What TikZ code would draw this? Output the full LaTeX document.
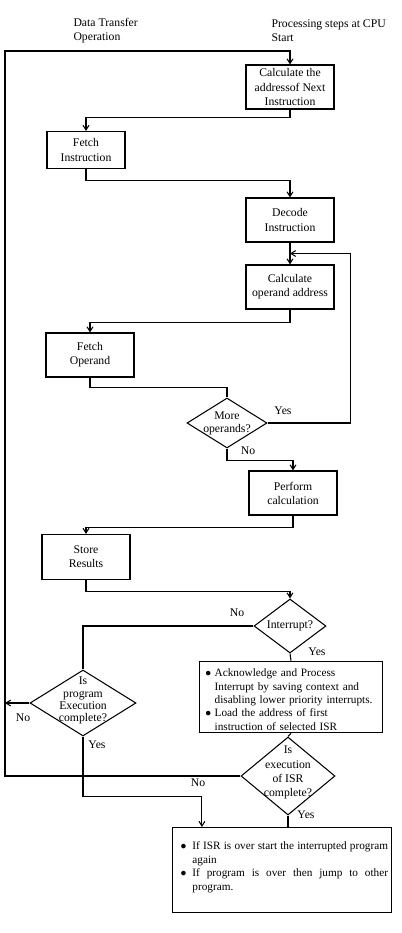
\documentclass[tikz,border=0pt]{standalone}
\usepackage{fontspec}
\setmainfont{Liberation Serif}
\usepackage{enumitem}
\usetikzlibrary{shapes.geometric,arrows.meta,calc}

\tikzset{
  stepbox/.style={draw,minimum width=2.64cm,minimum height=1.32cm,inner sep=1pt},
  decision/.style={draw,diamond,inner sep=0pt},
  answer/.style={inner sep=1pt},
  listbox/.style={draw,align=justify,inner xsep=3pt,inner ysep=2pt,font=\fontsize{9.6}{11.4}\selectfont}
}
\setlist[itemize]{nosep,leftmargin=10pt,labelsep=3pt,label=$\bullet$}

\begin{document}
\begin{tikzpicture}[x=0.03cm,y=-0.03cm,align=center,line width=0.9pt,
  font=\fontsize{10}{12}\selectfont,
  >={Straight Barb[length=4pt,width=5pt]}]

\useasboundingbox (0,0) rectangle (402,933);

\node[align=left,anchor=west,inner sep=0pt] (dto) at (73,31) {Data Transfer\\Operation};
\node[align=left,anchor=west,inner sep=0pt] (psc) at (271,31) {Processing steps at CPU\\Start};

\node[stepbox] (calc) at (290,87) {Calculate the\\addressof Next\\Instruction};
\node[stepbox,minimum width=2.34cm,minimum height=1.11cm] (fetchi) at (86,150) {Fetch\\Instruction};
\node[stepbox] (decode) at (290,220) {Decode\\Instruction};
\node[stepbox] (operand) at (290,287) {Calculate\\operand address};
\node[stepbox] (fetcho) at (90,355) {Fetch\\Operand};
\node[decision,minimum width=2.4cm,minimum height=1.5cm,
  label={[font=\fontsize{10}{11}\selectfont]center:{More\\operands?}}] (more) at (227,423) {};
\node[stepbox] (perform) at (293,493) {Perform\\calculation};
\node[stepbox,minimum height=1.35cm] (store) at (86,557) {Store\\Results};
\node[decision,minimum width=2.16cm,minimum height=1.62cm,
  label={center:Interrupt?}] (interrupt) at (290,626) {};

\node[listbox,align=left,text width=5.28cm,minimum height=2.07cm] (isr) at (291,697) {%
  \begin{itemize}
  \item Acknowledge and Process\newline Interrupt by saving context and\newline disabling lower priority interrupts.
  \item Load the address of first\newline instruction of selected ISR
  \end{itemize}};

\node[decision,minimum width=3.18cm,minimum height=1.98cm,
  label={[font=\fontsize{10}{10.5}\selectfont,yshift=2pt]center:{Is\\program\\Execution\\complete?}}] (prog) at (83,703) {};
\node[decision,minimum width=2.82cm,minimum height=2.34cm,
  label={[font=\fontsize{10}{12}\selectfont,yshift=3pt]center:{Is\\execution\\of ISR\\complete?}}] (isrdone) at (288,776) {};

\node[listbox,text width=6.36cm,minimum height=2.55cm] (final) at (282,870) {%
  \begin{itemize}[leftmargin=14pt,labelsep=5pt]
  \item If ISR is over start the interrupted program\linebreak again
  \item If program is over then jump to other\linebreak program.
  \end{itemize}\par\mbox{}};

% answers
\node[answer] (yes1) at (283,411) {Yes};
\node[answer] (no1) at (248,451) {No};
\node[answer] (no2) at (237,613) {No};
\node[answer] (yes2) at (317,652) {Yes};
\node[answer] (no3) at (23,718) {No};
\node[answer] (yes3) at (97,745) {Yes};
\node[answer] (no4) at (198,783) {No};
\node[answer] (yes4) at (306,815) {Yes};

\coordinate (lt) at (5,51);
\coordinate (back) at ($(decode.south)!0.5!(operand.north)$);
\coordinate (drop) at ($(final.north west)+(30,0)$);

\draw[->] (calc.south) -- ++(0,8) -| (fetchi.north);
\draw[->] (fetchi.south) -- ++(0,11) -| (decode.north);
\draw[->] (decode) -- (operand);
\draw[->] (operand.south) -- ++(0,13) -| (fetcho.north);
\draw (fetcho.south) -- ++(0,10) -| (more.north);
\draw[->] (more.east) -- ++(83,0) |- (back);
\draw[->] (more.south) -- ++(0,12) -| (perform.north);
\draw[->] (perform.south) -- ++(0,12) -| (store.north);
\draw[->] (store.south) -- ++(0,11) -| (interrupt.north);
\draw (interrupt.south) -- (isr.north);
\draw (interrupt.west) -| (prog.north);
\draw (isr.south) -- (isrdone.north);
\draw[->] (prog.west) -- (prog.west -| lt);
\draw[->] (prog.south) -- ++(0,60) -| (drop);
\draw (isrdone.south) -- (isrdone.south |- final.north);
\draw[->] (isrdone.west) -| (lt) -- (lt -| calc) -- (calc);

\end{tikzpicture}
\end{document}
